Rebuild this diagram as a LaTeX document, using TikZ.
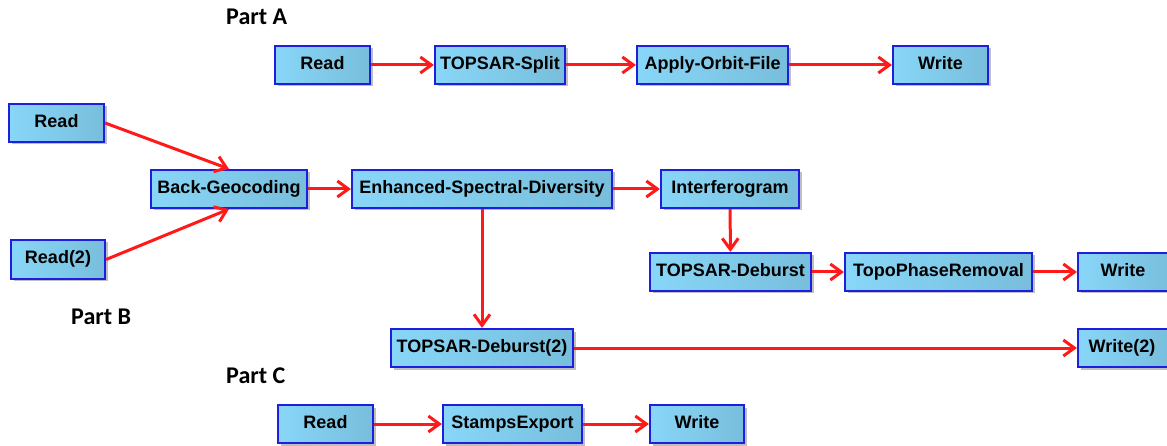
\documentclass[tikz,border=0pt]{standalone}
\usepackage{fontspec}
\setmainfont{Liberation Sans}
\newfontfamily\partfont{Carlito}
\usetikzlibrary{arrows.meta,shadows}
\definecolor{boxL}{RGB}{136,214,248}
\definecolor{boxR}{RGB}{120,190,220}
\definecolor{boxB}{RGB}{30,30,225}
\definecolor{arr}{RGB}{255,25,25}
\tikzset{
  box/.style={draw=boxB, line width=2.2pt, left color=boxL, right color=boxR,
    inner sep=0pt, text height=13pt, text depth=4pt,
    font=\bfseries\fontsize{18}{20}\selectfont,
    drop shadow={shadow xshift=2.5pt, shadow yshift=-2.5pt, fill=black, opacity=0.25}},
  link/.style={draw=arr, line width=3pt, -{Straight Barb[length=11pt,width=16pt,line width=3pt]}},
  partlabel/.style={anchor=west, inner sep=0pt, font=\partfont\bfseries\fontsize{24}{26}\selectfont}
}
\newcommand{\mkbox}[6]{\node[box, minimum width=#4pt-#2pt, minimum height=#5pt-#3pt] (#1) at ({(#2+#4)/2},{(#3+#5)/2}) {#6};}
\begin{document}
\begin{tikzpicture}[x=1pt,y=-1pt]
\useasboundingbox (0,0) rectangle (1167,446);
% Part labels
\node[partlabel] (pa) at (226,16.5) {Part A};
\node[partlabel] (pb) at (71,317) {Part B};
\node[partlabel] (pc) at (226,376) {Part C};
% Part A
\mkbox{rA}{275}{46}{370}{84}{Read}
\mkbox{sA}{435}{46}{565}{84}{TOPSAR-Split}
\mkbox{aoA}{637}{46}{788}{84}{Apply-Orbit-File}
\mkbox{wA}{893}{46}{988}{84}{Write}
% Part B
\mkbox{rB1}{9}{104}{104}{142}{Read}
\mkbox{rB2}{11}{240}{105}{279}{Read(2)}
\mkbox{bg}{151}{170}{307}{208}{Back-Geocoding}
\mkbox{esd}{352}{170}{612}{208}{Enhanced-Spectral-Diversity}
\mkbox{ifg}{661}{170}{799}{208}{Interferogram}
\mkbox{db}{650}{253}{811}{291}{TOPSAR-Deburst}
\mkbox{tpr}{845}{253}{1032}{291}{TopoPhaseRemoval}
\mkbox{wB}{1078}{253}{1170}{291}{\hspace*{-2pt}Write}
\mkbox{db2}{391}{329}{573}{367}{TOPSAR-Deburst(2)}
\mkbox{wB2}{1078}{329}{1170}{367}{\hspace*{-4pt}Write(2)}
% Part C
\mkbox{rC}{278}{405}{373}{443}{Read}
\mkbox{seC}{443}{405}{582}{443}{StampsExport}
\mkbox{wC}{650}{405}{744}{443}{Write}
% connectors
\draw[link] (rA) -- (sA);
\draw[link] (sA) -- (aoA);
\draw[link] (aoA) -- (wA);
\draw[link] (rB1.east) -- (bg.north);
\draw[link] (rB2.east) -- (bg.south);
\draw[link] (bg) -- (esd);
\draw[link] (esd) -- (ifg);
\draw[link] (ifg) -- (db);
\draw[link] (db) -- (tpr);
\draw[link] (tpr) -- (wB);
\draw[link] (esd.south) -- (db2.north);
\draw[link] (db2) -- (wB2);
\draw[link] (rC) -- (seC);
\draw[link] (seC) -- (wC);
\end{tikzpicture}
\end{document}
